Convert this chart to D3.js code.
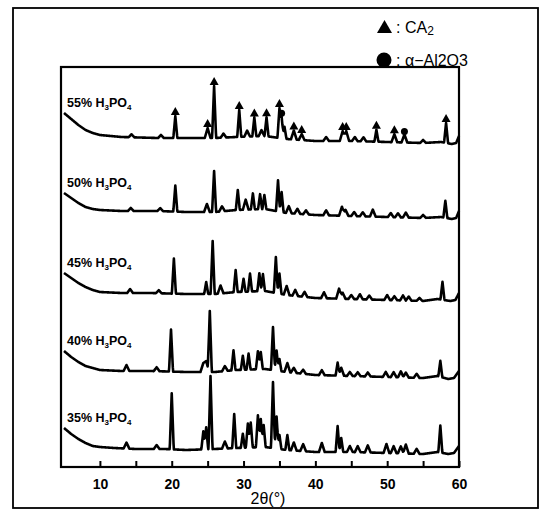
<!DOCTYPE html>
<html>
<head>
<meta charset="utf-8">
<script src="https://cdn.jsdelivr.net/npm/d3@7"></script>
<style>
  body { margin: 0; background: #fff; }
  text { font-family: "Liberation Sans", Arial, sans-serif; fill: #000; }
</style>
</head>
<body>
<svg id="chart"></svg>
<script>
// tick values on the 2θ axis
const xTicks = [10, 15, 20, 25, 30, 35, 40, 45, 50, 55, 60];
const xTickLabels = [10, 20, 30, 40, 50, 60];

// sample names (wt% H3PO4), top to bottom
const samples = ['55', '50', '45', '40', '35'];

// background of each trace: [2θ, stacked intensity]
const bg55 = [[5, 354], [6, 348], [7, 342], [8, 337], [9, 334], [10, 332], [13, 330], [18, 329], [22, 329], [26, 329], [29, 330], [33, 331], [36, 328], [40, 326], [45, 326], [50, 325], [55, 324], [57.5, 325], [59, 323], [59.6, 324], [60, 331]];
const bg50 = [[5, 274], [6, 269], [7, 264], [8, 260], [9, 258], [10, 257], [13, 256], [18, 256], [22, 255], [26, 255], [29, 257], [33, 258], [36, 254], [40, 252], [45, 251], [50, 250], [55, 249], [57.5, 250], [59, 248], [59.6, 249], [60, 256]];
const bg45 = [[5, 194], [6, 189], [7, 184], [8, 180], [9, 177], [10, 175], [13, 174], [17, 174], [22, 173], [26, 173], [29, 175], [33, 176], [36, 172], [40, 169], [45, 168], [50, 167], [55, 166], [57, 168], [58.8, 166], [59.5, 167], [60, 174]];
const bg40 = [[5, 116], [6, 110], [7, 105], [8, 101], [9, 99], [10, 97], [13, 96], [17, 96], [22, 95], [26, 95], [29, 97], [33, 98], [36, 95], [40, 92], [45, 91], [50, 90], [55, 89], [57, 91], [58.5, 88], [59.3, 89], [60, 96]];
const bg35 = [[5, 39], [6, 33], [7, 28], [8, 24], [9, 21], [10, 20], [12, 19], [15, 18], [19, 18], [22, 17], [26, 18], [29, 19], [33, 20], [36, 17], [40, 15], [45, 15], [50, 14], [55, 13], [57, 15], [58.5, 13], [59.3, 14], [60, 21]];

// peaks of each trace: [2θ, height above background]
const pk55 = [[14.4, 3], [18.5, 3], [20.5, 22], [25.0, 10], [25.9, 52], [27.2, 4], [29.4, 27], [30.5, 6], [31.5, 19], [32.5, 6], [33.2, 19], [35.0, 30], [35.3, 22], [35.7, 12], [37.0, 9], [38.1, 6], [41.5, 4], [43.8, 10], [44.3, 10], [45.5, 4], [46.7, 4], [48.5, 12], [51.0, 8], [52.4, 8], [55.0, 3], [58.2, 20]];
const pk50 = [[14.3, 3], [18.4, 3], [20.5, 26], [24.9, 8], [25.9, 41], [27.0, 5], [29.2, 20], [30.3, 10], [31.3, 16], [32.3, 15], [32.9, 14], [34.8, 31], [35.3, 20], [36.3, 7], [37.5, 5], [38.7, 4], [41.5, 5], [43.7, 9], [44.2, 6], [45.4, 4], [46.6, 4], [48.0, 7], [50.5, 4], [51.5, 4], [52.6, 5], [55.0, 3], [58.1, 17]];
const pk45 = [[14.2, 4], [18.2, 3], [20.3, 35], [24.8, 12], [25.7, 53], [26.8, 8], [28.9, 22], [30.0, 13], [30.9, 18], [32.2, 18], [32.7, 17], [34.5, 36], [35.0, 20], [36.0, 9], [37.2, 6], [38.5, 5], [41.2, 6], [43.3, 10], [43.8, 6], [45.0, 4], [46.2, 5], [47.5, 4], [50.0, 5], [51.0, 4], [52.2, 5], [53.0, 4], [54.5, 3], [57.7, 18]];
const pk40 = [[13.7, 6], [17.9, 4], [19.9, 42], [24.4, 9], [24.8, 11], [25.3, 61], [27.4, 5], [28.6, 20], [29.9, 14], [30.7, 16], [32.0, 18], [32.4, 17], [34.1, 43], [34.6, 20], [35.0, 12], [36.1, 9], [37.0, 5], [38.3, 4], [40.9, 5], [43.1, 13], [43.6, 8], [44.8, 4], [45.9, 4], [47.3, 4], [49.8, 5], [50.9, 5], [51.9, 6], [52.6, 5], [54.1, 4], [57.4, 16]];
const pk35 = [[13.7, 6], [17.9, 4], [20.0, 56], [24.4, 18], [24.8, 22], [25.4, 73], [27.4, 7], [28.7, 34], [29.9, 14], [30.6, 24], [31.0, 25], [32.0, 32], [32.4, 28], [32.8, 22], [34.1, 66], [34.6, 32], [35.0, 14], [36.1, 15], [37.0, 8], [38.3, 7], [40.9, 9], [43.1, 26], [43.6, 14], [44.8, 6], [45.9, 6], [47.3, 7], [49.9, 9], [50.9, 7], [51.9, 7], [52.6, 9], [54.1, 5], [57.4, 27]];

// phase marks on the 55% trace
const ca2Marks = [20.5, 25.0, 25.9, 29.4, 31.5, 33.2, 35.0, 37.0, 38.1, 43.8, 44.3, 48.5, 51.0, 58.2];
const aluminaMarks = [35.3, 52.4];

const width = 548;
const height = 520;
const box = { left: 61, right: 459, top: 67, bottom: 467 };

const svg = d3.select('#chart')
  .attr('width', width)
  .attr('height', height);

const xScale = d3.scaleLinear().domain([5, 60]).range([64, box.right]);
const yScale = d3.scaleLinear().domain([0, box.bottom - box.top]).range([box.bottom, box.top]);

const series = [
  { name: samples[0], bg: bg55, pk: pk55 },
  { name: samples[1], bg: bg50, pk: pk50 },
  { name: samples[2], bg: bg45, pk: pk45 },
  { name: samples[3], bg: bg40, pk: pk40 },
  { name: samples[4], bg: bg35, pk: pk35 }
];

// trace = background + narrow peaks drawn as spikes
function trace(bg, pk) {
  const bgAt = d3.scaleLinear().domain(bg.map(d => d[0])).range(bg.map(d => d[1]));
  return d3.range(0, 1101).map(i => {
    const t = Math.round((5 + i * 0.05) * 100) / 100;
    let v = bgAt(t);
    pk.forEach(([p, h]) => {
      const w = h < 12 ? 0.4 : 0.28;
      const d = Math.abs(t - p);
      if (d < w) v += h * (1 - d / w);
    });
    return [t, v];
  });
}

// outer frame
svg.append('rect')
  .attr('x', 13).attr('y', 8)
  .attr('width', 525).attr('height', 500)
  .attr('fill', 'none')
  .attr('stroke', '#000')
  .attr('stroke-width', 1.8);

// plot box
svg.append('rect')
  .attr('x', box.left).attr('y', box.top)
  .attr('width', box.right - box.left).attr('height', box.bottom - box.top)
  .attr('fill', 'none')
  .attr('stroke', '#000')
  .attr('stroke-width', 2.2);

// x axis
const xAxis = svg.append('g')
  .attr('transform', `translate(0, ${box.bottom})`)
  .call(d3.axisBottom(xScale)
    .tickValues(xTicks)
    .tickSize(-6)
    .tickPadding(12)
    .tickFormat(d => xTickLabels.includes(d) ? d : ''));
xAxis.select('.domain').remove();
xAxis.selectAll('.tick line').attr('stroke', '#000').attr('stroke-width', 2);
xAxis.selectAll('.tick text')
  .style('font-family', '"Liberation Sans", Arial, sans-serif')
  .style('font-size', '14px')
  .style('font-weight', 'bold')
  .attr('fill', '#000');

svg.append('text')
  .attr('x', 268).attr('y', 504)
  .attr('text-anchor', 'middle')
  .style('font-size', '16px')
  .text('2θ(°)');

const line = d3.line()
  .x(d => xScale(d[0]))
  .y(d => yScale(d[1]));

series.forEach(s => {
  const pts = trace(s.bg, s.pk);
  s.pts = pts;
  svg.append('path')
    .datum(pts)
    .attr('fill', 'none')
    .attr('stroke', '#000')
    .attr('stroke-width', 2.6)
    .attr('stroke-linejoin', 'round')
    .attr('d', line);

  const lbl = svg.append('text')
    .attr('x', 67)
    .attr('y', yScale(s.bg[0][1]) - 6)
    .style('font-size', '12.5px')
    .style('font-weight', 'bold');
  lbl.append('tspan').text(s.name + '% H');
  lbl.append('tspan').attr('dy', 3).style('font-size', '8px').text('3');
  lbl.append('tspan').attr('dy', -3).text('PO');
  lbl.append('tspan').attr('dy', 3).style('font-size', '8px').text('4');
});

// markers on the 55% trace
const top55 = t => {
  const pts = series[0].pts;
  return pts[d3.minIndex(pts, d => Math.abs(d[0] - t))][1];
};

svg.append('g')
  .selectAll('path')
  .data(ca2Marks)
  .join('path')
  .attr('d', t => {
    const px = xScale(t);
    const py = yScale(top55(t)) - 1;
    return `M${px - 4.5},${py}L${px + 4.5},${py}L${px},${py - 8}Z`;
  })
  .attr('fill', '#000');

svg.append('g')
  .selectAll('circle')
  .data(aluminaMarks)
  .join('circle')
  .attr('cx', t => xScale(t))
  .attr('cy', t => yScale(top55(t)) - 3)
  .attr('r', 3.5)
  .attr('fill', '#000');

// legend
svg.append('path')
  .attr('d', 'M377,33L392,33L384.5,20Z')
  .attr('fill', '#000');
const l1 = svg.append('text')
  .attr('x', 396).attr('y', 33)
  .style('font-size', '16px');
l1.append('tspan').text(': CA');
l1.append('tspan').attr('dy', 2).style('font-size', '12px').text('2');

svg.append('circle')
  .attr('cx', 384).attr('cy', 60)
  .attr('r', 7.5)
  .attr('fill', '#000');
svg.append('text')
  .attr('x', 396).attr('y', 66)
  .style('font-size', '16px')
  .text(': α−Al2O3');
</script>
</body>
</html>
